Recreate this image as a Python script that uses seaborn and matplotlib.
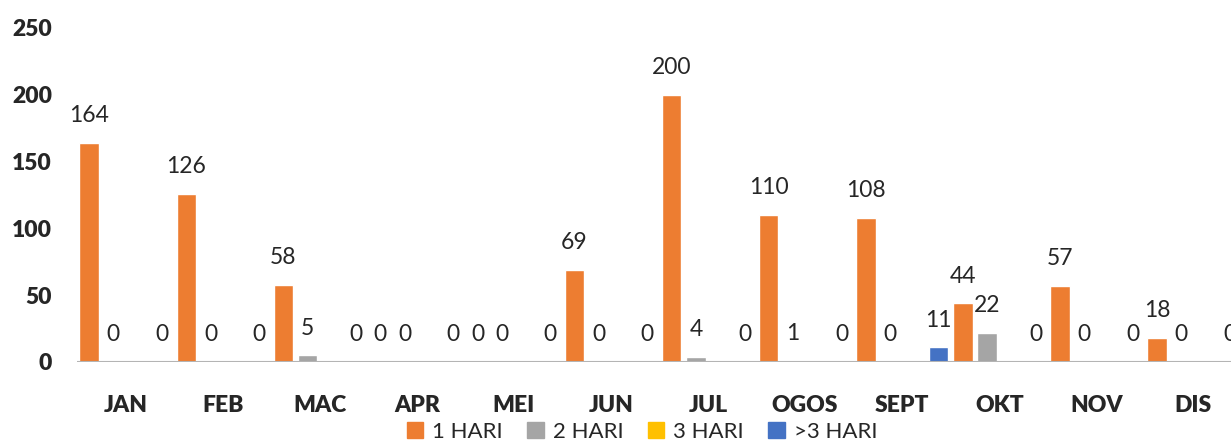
import matplotlib.pyplot as plt
import pandas as pd
import numpy as np
import seaborn as sns
from matplotlib.patches import Patch

# data
months = ['JAN', 'FEB', 'MAC', 'APR', 'MEI', 'JUN', 'JUL', 'OGOS', 'SEPT', 'OKT', 'NOV', 'DIS']
hari_1 = [164, 126, 58, 0, 0, 69, 200, 110, 108, 44, 57, 18]
hari_2 = [0, 0, 5, 0, 0, 0, 4, 1, 0, 22, 0, 0]
hari_3 = [0, 0, 0, 0, 0, 0, 0, 0, 0, 0, 0, 0]
hari_4 = [0, 0, 0, 0, 0, 0, 0, 0, 11, 0, 0, 0]
series = ['1 HARI', '2 HARI', '3 HARI', '>3 HARI']
colors = ['#ED7D31', '#A5A5A5', '#FFC000', '#4472C4']

df = pd.DataFrame({
    'bulan': months * 4,
    'jenis': np.repeat(series, len(months)),
    'jumlah': hari_1 + hari_2 + hari_3 + hari_4,
})

sns.set_style('white')
plt.rcParams['font.family'] = ['Lato', 'DejaVu Sans']

fig = plt.figure(figsize=(12.31, 4.42), dpi=100)
ax = fig.add_axes([77 / 1231, 80 / 442, 1165 / 1231, 334 / 442])

sns.barplot(data=df, x='bulan', y='jumlah', hue='jenis', order=months, hue_order=series,
            palette=colors, width=1.0, gap=0.2, saturation=1, legend=False, ax=ax)

# labels, the 3 HARI series has none in the original
for cont, name in zip(ax.containers, series):
    if name == '3 HARI':
        continue
    ax.bar_label(cont, fmt='%d', padding=12, fontsize=16.5)

ax.set_xlim(-0.5, 11.5)
ax.set_ylim(0, 250)
ax.set_yticks([0, 50, 100, 150, 200, 250])
ax.set_xlabel('')
ax.set_ylabel('')
sns.despine(ax=ax, left=True, bottom=True)
ax.axhline(0, color='#b4b4b4', lw=1.5, zorder=5)
ax.tick_params(axis='y', length=0, pad=18, labelsize=16.5)
ax.tick_params(axis='x', length=0, pad=24, labelsize=16.5)
for t in ax.get_xticklabels() + ax.get_yticklabels():
    t.set_fontweight('heavy')

handles = [Patch(color=c, label=s) for s, c in zip(series, colors)]
fig.legend(handles=handles, loc='center', bbox_to_anchor=(642 / 1231, 10 / 442), ncol=4,
           frameon=False, fontsize=16, handlelength=0.75, handleheight=0.75,
           handletextpad=0.4, columnspacing=1.1)

fig.savefig('out.png', dpi=100)
